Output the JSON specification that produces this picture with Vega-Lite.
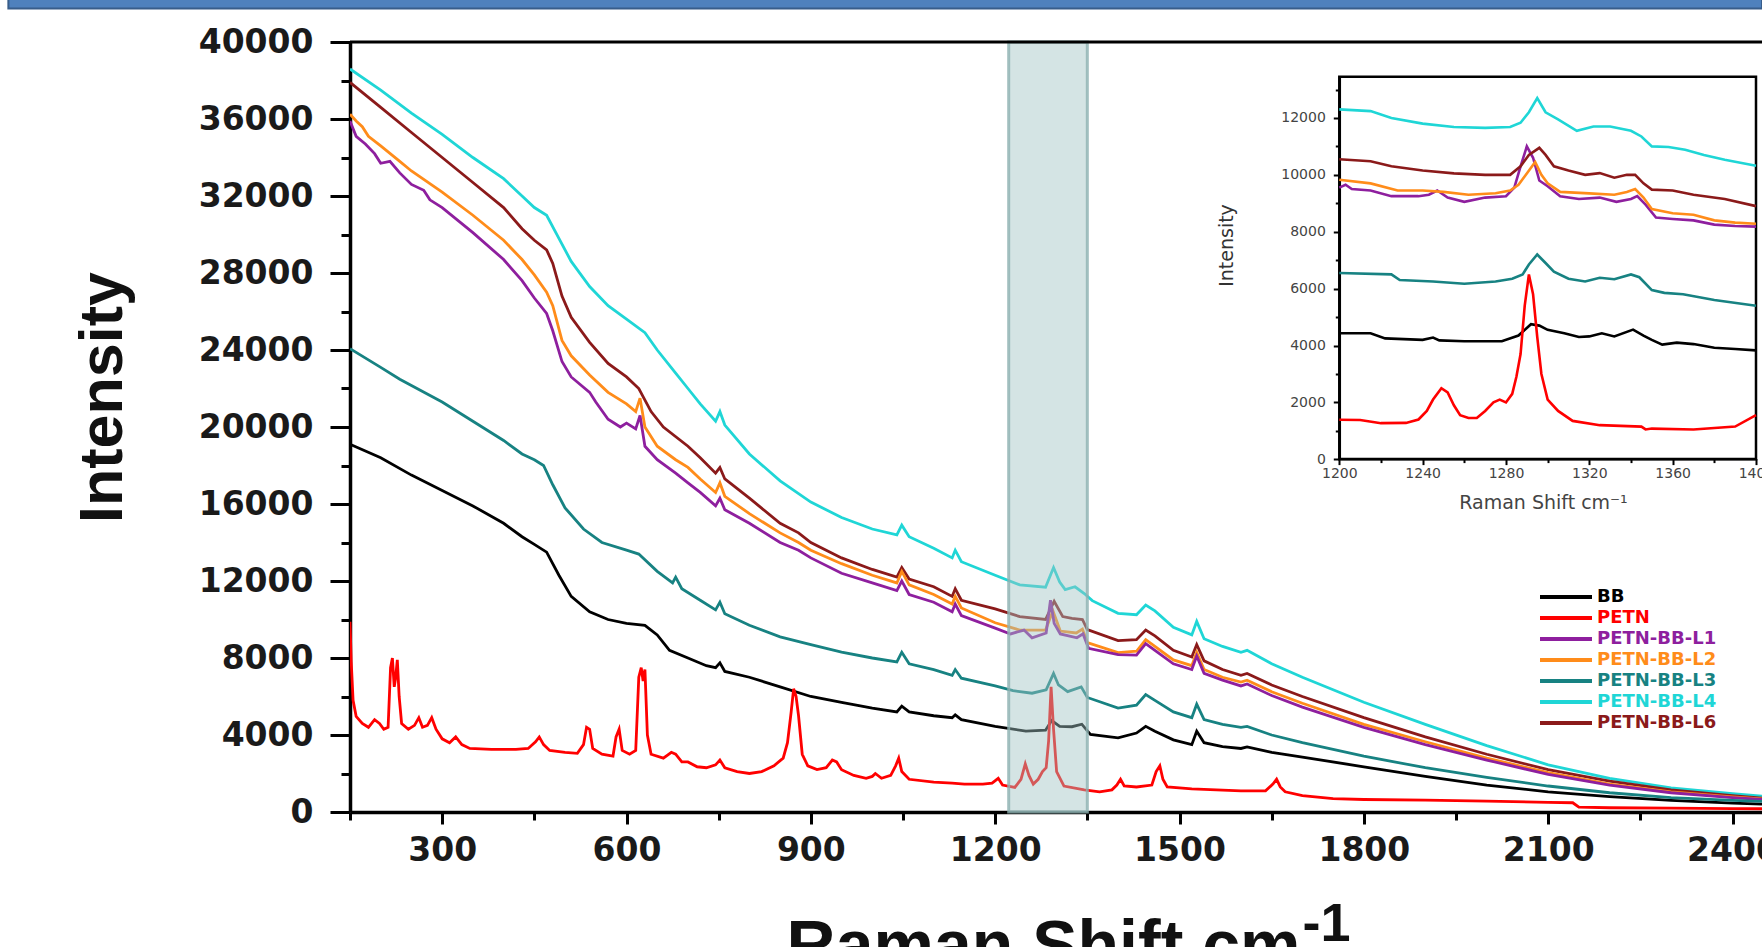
{
"$schema": "https://vega.github.io/schema/vega-lite/v6.json",
"width": 1412,
"height": 770,
"autosize": {"type": "none"},
"padding": {"left": 350, "top": 42, "right": 0, "bottom": 135},
"background": "#ffffff",
"config": {"view": {"stroke": null}, "axis": {"grid": false}},
"datasets": {
"main": [
{"s":"BB","x":150,"y":19100},{"s":"BB","x":200,"y":18400},{"s":"BB","x":250,"y":17500},{"s":"BB","x":300,"y":16700},{"s":"BB","x":350,"y":15900},{"s":"BB","x":400,"y":15000},{"s":"BB","x":430,"y":14300},{"s":"BB","x":450,"y":13900},{"s":"BB","x":470,"y":13500},{"s":"BB","x":490,"y":12300},{"s":"BB","x":510,"y":11200},{"s":"BB","x":540,"y":10400},{"s":"BB","x":570,"y":10000},{"s":"BB","x":600,"y":9800},{"s":"BB","x":630,"y":9700},{"s":"BB","x":650,"y":9200},{"s":"BB","x":670,"y":8400},{"s":"BB","x":700,"y":8000},{"s":"BB","x":730,"y":7600},{"s":"BB","x":745,"y":7500},{"s":"BB","x":752,"y":7750},{"s":"BB","x":760,"y":7300},{"s":"BB","x":800,"y":7000},{"s":"BB","x":850,"y":6500},{"s":"BB","x":900,"y":6000},{"s":"BB","x":950,"y":5700},{"s":"BB","x":1000,"y":5400},{"s":"BB","x":1040,"y":5200},{"s":"BB","x":1048,"y":5500},{"s":"BB","x":1060,"y":5200},{"s":"BB","x":1100,"y":5000},{"s":"BB","x":1130,"y":4900},{"s":"BB","x":1135,"y":5050},{"s":"BB","x":1145,"y":4800},{"s":"BB","x":1200,"y":4450},{"s":"BB","x":1250,"y":4200},{"s":"BB","x":1282,"y":4250},{"s":"BB","x":1292,"y":4750},{"s":"BB","x":1305,"y":4450},{"s":"BB","x":1325,"y":4430},{"s":"BB","x":1341,"y":4560},{"s":"BB","x":1355,"y":4030},{"s":"BB","x":1400,"y":3850},{"s":"BB","x":1430,"y":4100},{"s":"BB","x":1445,"y":4450},{"s":"BB","x":1460,"y":4200},{"s":"BB","x":1490,"y":3750},{"s":"BB","x":1520,"y":3500},{"s":"BB","x":1528,"y":4200},{"s":"BB","x":1540,"y":3600},{"s":"BB","x":1570,"y":3400},{"s":"BB","x":1600,"y":3300},{"s":"BB","x":1610,"y":3380},{"s":"BB","x":1650,"y":3100},{"s":"BB","x":1700,"y":2850},{"s":"BB","x":1800,"y":2350},{"s":"BB","x":1900,"y":1850},{"s":"BB","x":2000,"y":1400},{"s":"BB","x":2100,"y":1050},{"s":"BB","x":2200,"y":800},{"s":"BB","x":2300,"y":600},{"s":"BB","x":2400,"y":460},{"s":"BB","x":2448,"y":410},

{"s":"PETN-BB-L4","x":150,"y":38600},{"s":"PETN-BB-L4","x":200,"y":37500},{"s":"PETN-BB-L4","x":250,"y":36300},{"s":"PETN-BB-L4","x":300,"y":35200},{"s":"PETN-BB-L4","x":350,"y":34000},{"s":"PETN-BB-L4","x":400,"y":32900},{"s":"PETN-BB-L4","x":430,"y":32000},{"s":"PETN-BB-L4","x":450,"y":31400},{"s":"PETN-BB-L4","x":470,"y":31000},{"s":"PETN-BB-L4","x":490,"y":29800},{"s":"PETN-BB-L4","x":510,"y":28600},{"s":"PETN-BB-L4","x":540,"y":27300},{"s":"PETN-BB-L4","x":570,"y":26300},{"s":"PETN-BB-L4","x":600,"y":25600},{"s":"PETN-BB-L4","x":630,"y":24900},{"s":"PETN-BB-L4","x":650,"y":24000},{"s":"PETN-BB-L4","x":680,"y":22800},{"s":"PETN-BB-L4","x":700,"y":22000},{"s":"PETN-BB-L4","x":720,"y":21200},{"s":"PETN-BB-L4","x":745,"y":20300},{"s":"PETN-BB-L4","x":752,"y":20800},{"s":"PETN-BB-L4","x":760,"y":20100},{"s":"PETN-BB-L4","x":800,"y":18600},{"s":"PETN-BB-L4","x":850,"y":17200},{"s":"PETN-BB-L4","x":900,"y":16100},{"s":"PETN-BB-L4","x":950,"y":15300},{"s":"PETN-BB-L4","x":1000,"y":14700},{"s":"PETN-BB-L4","x":1040,"y":14400},{"s":"PETN-BB-L4","x":1048,"y":14900},{"s":"PETN-BB-L4","x":1060,"y":14300},{"s":"PETN-BB-L4","x":1100,"y":13700},{"s":"PETN-BB-L4","x":1130,"y":13200},{"s":"PETN-BB-L4","x":1135,"y":13600},{"s":"PETN-BB-L4","x":1145,"y":13000},{"s":"PETN-BB-L4","x":1200,"y":12300},{"s":"PETN-BB-L4","x":1240,"y":11800},{"s":"PETN-BB-L4","x":1282,"y":11680},{"s":"PETN-BB-L4","x":1295,"y":12700},{"s":"PETN-BB-L4","x":1305,"y":11950},{"s":"PETN-BB-L4","x":1314,"y":11550},{"s":"PETN-BB-L4","x":1330,"y":11700},{"s":"PETN-BB-L4","x":1345,"y":11350},{"s":"PETN-BB-L4","x":1358,"y":10980},{"s":"PETN-BB-L4","x":1400,"y":10320},{"s":"PETN-BB-L4","x":1430,"y":10250},{"s":"PETN-BB-L4","x":1445,"y":10750},{"s":"PETN-BB-L4","x":1460,"y":10450},{"s":"PETN-BB-L4","x":1490,"y":9600},{"s":"PETN-BB-L4","x":1520,"y":9200},{"s":"PETN-BB-L4","x":1528,"y":9900},{"s":"PETN-BB-L4","x":1540,"y":9000},{"s":"PETN-BB-L4","x":1570,"y":8600},{"s":"PETN-BB-L4","x":1600,"y":8300},{"s":"PETN-BB-L4","x":1610,"y":8400},{"s":"PETN-BB-L4","x":1650,"y":7700},{"s":"PETN-BB-L4","x":1700,"y":7000},{"s":"PETN-BB-L4","x":1800,"y":5700},{"s":"PETN-BB-L4","x":1900,"y":4550},{"s":"PETN-BB-L4","x":2000,"y":3450},{"s":"PETN-BB-L4","x":2100,"y":2450},{"s":"PETN-BB-L4","x":2200,"y":1750},{"s":"PETN-BB-L4","x":2300,"y":1250},{"s":"PETN-BB-L4","x":2400,"y":950},{"s":"PETN-BB-L4","x":2448,"y":820},

{"s":"PETN-BB-L6","x":150,"y":37900},{"s":"PETN-BB-L6","x":200,"y":36600},{"s":"PETN-BB-L6","x":250,"y":35300},{"s":"PETN-BB-L6","x":300,"y":34000},{"s":"PETN-BB-L6","x":350,"y":32700},{"s":"PETN-BB-L6","x":400,"y":31400},{"s":"PETN-BB-L6","x":430,"y":30300},{"s":"PETN-BB-L6","x":450,"y":29700},{"s":"PETN-BB-L6","x":470,"y":29200},{"s":"PETN-BB-L6","x":480,"y":28500},{"s":"PETN-BB-L6","x":495,"y":26800},{"s":"PETN-BB-L6","x":510,"y":25700},{"s":"PETN-BB-L6","x":540,"y":24400},{"s":"PETN-BB-L6","x":570,"y":23300},{"s":"PETN-BB-L6","x":600,"y":22600},{"s":"PETN-BB-L6","x":620,"y":22000},{"s":"PETN-BB-L6","x":640,"y":20800},{"s":"PETN-BB-L6","x":660,"y":20000},{"s":"PETN-BB-L6","x":700,"y":19000},{"s":"PETN-BB-L6","x":720,"y":18400},{"s":"PETN-BB-L6","x":745,"y":17600},{"s":"PETN-BB-L6","x":752,"y":17900},{"s":"PETN-BB-L6","x":760,"y":17300},{"s":"PETN-BB-L6","x":800,"y":16300},{"s":"PETN-BB-L6","x":850,"y":15000},{"s":"PETN-BB-L6","x":880,"y":14500},{"s":"PETN-BB-L6","x":900,"y":14000},{"s":"PETN-BB-L6","x":950,"y":13200},{"s":"PETN-BB-L6","x":1000,"y":12600},{"s":"PETN-BB-L6","x":1040,"y":12200},{"s":"PETN-BB-L6","x":1048,"y":12700},{"s":"PETN-BB-L6","x":1060,"y":12100},{"s":"PETN-BB-L6","x":1100,"y":11700},{"s":"PETN-BB-L6","x":1130,"y":11200},{"s":"PETN-BB-L6","x":1135,"y":11600},{"s":"PETN-BB-L6","x":1145,"y":11000},{"s":"PETN-BB-L6","x":1200,"y":10550},{"s":"PETN-BB-L6","x":1240,"y":10150},{"s":"PETN-BB-L6","x":1282,"y":10000},{"s":"PETN-BB-L6","x":1296,"y":10950},{"s":"PETN-BB-L6","x":1310,"y":10150},{"s":"PETN-BB-L6","x":1325,"y":10060},{"s":"PETN-BB-L6","x":1342,"y":10000},{"s":"PETN-BB-L6","x":1350,"y":9480},{"s":"PETN-BB-L6","x":1400,"y":8900},{"s":"PETN-BB-L6","x":1430,"y":8950},{"s":"PETN-BB-L6","x":1445,"y":9450},{"s":"PETN-BB-L6","x":1460,"y":9150},{"s":"PETN-BB-L6","x":1490,"y":8400},{"s":"PETN-BB-L6","x":1520,"y":8050},{"s":"PETN-BB-L6","x":1528,"y":8700},{"s":"PETN-BB-L6","x":1540,"y":7850},{"s":"PETN-BB-L6","x":1570,"y":7400},{"s":"PETN-BB-L6","x":1600,"y":7100},{"s":"PETN-BB-L6","x":1610,"y":7200},{"s":"PETN-BB-L6","x":1650,"y":6600},{"s":"PETN-BB-L6","x":1700,"y":6000},{"s":"PETN-BB-L6","x":1800,"y":4900},{"s":"PETN-BB-L6","x":1900,"y":3900},{"s":"PETN-BB-L6","x":2000,"y":3000},{"s":"PETN-BB-L6","x":2100,"y":2200},{"s":"PETN-BB-L6","x":2200,"y":1600},{"s":"PETN-BB-L6","x":2300,"y":1150},{"s":"PETN-BB-L6","x":2400,"y":850},{"s":"PETN-BB-L6","x":2448,"y":720},

{"s":"PETN-BB-L2","x":150,"y":36250},{"s":"PETN-BB-L2","x":160,"y":35900},{"s":"PETN-BB-L2","x":170,"y":35600},{"s":"PETN-BB-L2","x":180,"y":35100},{"s":"PETN-BB-L2","x":200,"y":34600},{"s":"PETN-BB-L2","x":231,"y":33800},{"s":"PETN-BB-L2","x":250,"y":33300},{"s":"PETN-BB-L2","x":300,"y":32200},{"s":"PETN-BB-L2","x":350,"y":31000},{"s":"PETN-BB-L2","x":400,"y":29700},{"s":"PETN-BB-L2","x":430,"y":28700},{"s":"PETN-BB-L2","x":450,"y":27900},{"s":"PETN-BB-L2","x":470,"y":27000},{"s":"PETN-BB-L2","x":480,"y":26300},{"s":"PETN-BB-L2","x":495,"y":24500},{"s":"PETN-BB-L2","x":510,"y":23700},{"s":"PETN-BB-L2","x":540,"y":22700},{"s":"PETN-BB-L2","x":570,"y":21800},{"s":"PETN-BB-L2","x":600,"y":21200},{"s":"PETN-BB-L2","x":615,"y":20800},{"s":"PETN-BB-L2","x":622,"y":21500},{"s":"PETN-BB-L2","x":630,"y":20000},{"s":"PETN-BB-L2","x":650,"y":19000},{"s":"PETN-BB-L2","x":680,"y":18300},{"s":"PETN-BB-L2","x":700,"y":17900},{"s":"PETN-BB-L2","x":720,"y":17300},{"s":"PETN-BB-L2","x":745,"y":16600},{"s":"PETN-BB-L2","x":752,"y":17100},{"s":"PETN-BB-L2","x":760,"y":16400},{"s":"PETN-BB-L2","x":800,"y":15500},{"s":"PETN-BB-L2","x":850,"y":14500},{"s":"PETN-BB-L2","x":880,"y":14000},{"s":"PETN-BB-L2","x":900,"y":13600},{"s":"PETN-BB-L2","x":950,"y":12900},{"s":"PETN-BB-L2","x":1000,"y":12300},{"s":"PETN-BB-L2","x":1040,"y":11900},{"s":"PETN-BB-L2","x":1048,"y":12500},{"s":"PETN-BB-L2","x":1060,"y":11800},{"s":"PETN-BB-L2","x":1100,"y":11300},{"s":"PETN-BB-L2","x":1130,"y":10800},{"s":"PETN-BB-L2","x":1135,"y":11200},{"s":"PETN-BB-L2","x":1145,"y":10600},{"s":"PETN-BB-L2","x":1200,"y":9830},{"s":"PETN-BB-L2","x":1240,"y":9450},{"s":"PETN-BB-L2","x":1282,"y":9450},{"s":"PETN-BB-L2","x":1294,"y":10450},{"s":"PETN-BB-L2","x":1306,"y":9400},{"s":"PETN-BB-L2","x":1332,"y":9300},{"s":"PETN-BB-L2","x":1342,"y":9500},{"s":"PETN-BB-L2","x":1350,"y":8800},{"s":"PETN-BB-L2","x":1400,"y":8280},{"s":"PETN-BB-L2","x":1430,"y":8350},{"s":"PETN-BB-L2","x":1445,"y":8950},{"s":"PETN-BB-L2","x":1460,"y":8600},{"s":"PETN-BB-L2","x":1490,"y":7900},{"s":"PETN-BB-L2","x":1520,"y":7600},{"s":"PETN-BB-L2","x":1528,"y":8300},{"s":"PETN-BB-L2","x":1540,"y":7400},{"s":"PETN-BB-L2","x":1570,"y":7000},{"s":"PETN-BB-L2","x":1600,"y":6750},{"s":"PETN-BB-L2","x":1610,"y":6850},{"s":"PETN-BB-L2","x":1650,"y":6250},{"s":"PETN-BB-L2","x":1700,"y":5650},{"s":"PETN-BB-L2","x":1800,"y":4550},{"s":"PETN-BB-L2","x":1900,"y":3650},{"s":"PETN-BB-L2","x":2000,"y":2800},{"s":"PETN-BB-L2","x":2100,"y":2050},{"s":"PETN-BB-L2","x":2200,"y":1450},{"s":"PETN-BB-L2","x":2300,"y":1050},{"s":"PETN-BB-L2","x":2400,"y":780},{"s":"PETN-BB-L2","x":2448,"y":680},

{"s":"PETN-BB-L1","x":150,"y":35900},{"s":"PETN-BB-L1","x":160,"y":35100},{"s":"PETN-BB-L1","x":175,"y":34700},{"s":"PETN-BB-L1","x":190,"y":34200},{"s":"PETN-BB-L1","x":200,"y":33700},{"s":"PETN-BB-L1","x":215,"y":33800},{"s":"PETN-BB-L1","x":231,"y":33200},{"s":"PETN-BB-L1","x":250,"y":32600},{"s":"PETN-BB-L1","x":270,"y":32300},{"s":"PETN-BB-L1","x":280,"y":31800},{"s":"PETN-BB-L1","x":300,"y":31400},{"s":"PETN-BB-L1","x":350,"y":30100},{"s":"PETN-BB-L1","x":400,"y":28700},{"s":"PETN-BB-L1","x":430,"y":27600},{"s":"PETN-BB-L1","x":450,"y":26700},{"s":"PETN-BB-L1","x":470,"y":25900},{"s":"PETN-BB-L1","x":480,"y":25000},{"s":"PETN-BB-L1","x":495,"y":23400},{"s":"PETN-BB-L1","x":510,"y":22600},{"s":"PETN-BB-L1","x":540,"y":21800},{"s":"PETN-BB-L1","x":550,"y":21300},{"s":"PETN-BB-L1","x":570,"y":20400},{"s":"PETN-BB-L1","x":590,"y":20000},{"s":"PETN-BB-L1","x":600,"y":20200},{"s":"PETN-BB-L1","x":615,"y":19900},{"s":"PETN-BB-L1","x":622,"y":20600},{"s":"PETN-BB-L1","x":630,"y":19000},{"s":"PETN-BB-L1","x":650,"y":18300},{"s":"PETN-BB-L1","x":680,"y":17600},{"s":"PETN-BB-L1","x":700,"y":17100},{"s":"PETN-BB-L1","x":720,"y":16600},{"s":"PETN-BB-L1","x":745,"y":15900},{"s":"PETN-BB-L1","x":752,"y":16300},{"s":"PETN-BB-L1","x":760,"y":15700},{"s":"PETN-BB-L1","x":800,"y":15000},{"s":"PETN-BB-L1","x":850,"y":14000},{"s":"PETN-BB-L1","x":880,"y":13600},{"s":"PETN-BB-L1","x":900,"y":13200},{"s":"PETN-BB-L1","x":950,"y":12400},{"s":"PETN-BB-L1","x":1000,"y":11900},{"s":"PETN-BB-L1","x":1040,"y":11500},{"s":"PETN-BB-L1","x":1048,"y":12000},{"s":"PETN-BB-L1","x":1060,"y":11300},{"s":"PETN-BB-L1","x":1100,"y":10900},{"s":"PETN-BB-L1","x":1130,"y":10400},{"s":"PETN-BB-L1","x":1135,"y":10800},{"s":"PETN-BB-L1","x":1145,"y":10200},{"s":"PETN-BB-L1","x":1200,"y":9550},{"s":"PETN-BB-L1","x":1225,"y":9250},{"s":"PETN-BB-L1","x":1247,"y":9450},{"s":"PETN-BB-L1","x":1260,"y":9050},{"s":"PETN-BB-L1","x":1283,"y":9300},{"s":"PETN-BB-L1","x":1290,"y":11000},{"s":"PETN-BB-L1","x":1296,"y":9800},{"s":"PETN-BB-L1","x":1306,"y":9250},{"s":"PETN-BB-L1","x":1333,"y":9050},{"s":"PETN-BB-L1","x":1343,"y":9250},{"s":"PETN-BB-L1","x":1352,"y":8500},{"s":"PETN-BB-L1","x":1400,"y":8180},{"s":"PETN-BB-L1","x":1430,"y":8150},{"s":"PETN-BB-L1","x":1445,"y":8750},{"s":"PETN-BB-L1","x":1460,"y":8400},{"s":"PETN-BB-L1","x":1490,"y":7700},{"s":"PETN-BB-L1","x":1520,"y":7400},{"s":"PETN-BB-L1","x":1528,"y":8100},{"s":"PETN-BB-L1","x":1540,"y":7200},{"s":"PETN-BB-L1","x":1570,"y":6850},{"s":"PETN-BB-L1","x":1600,"y":6550},{"s":"PETN-BB-L1","x":1610,"y":6650},{"s":"PETN-BB-L1","x":1650,"y":6050},{"s":"PETN-BB-L1","x":1700,"y":5450},{"s":"PETN-BB-L1","x":1800,"y":4400},{"s":"PETN-BB-L1","x":1900,"y":3500},{"s":"PETN-BB-L1","x":2000,"y":2700},{"s":"PETN-BB-L1","x":2100,"y":1950},{"s":"PETN-BB-L1","x":2200,"y":1400},{"s":"PETN-BB-L1","x":2300,"y":1000},{"s":"PETN-BB-L1","x":2400,"y":750},{"s":"PETN-BB-L1","x":2448,"y":650},

{"s":"PETN-BB-L3","x":150,"y":24070},{"s":"PETN-BB-L3","x":200,"y":23100},{"s":"PETN-BB-L3","x":231,"y":22480},{"s":"PETN-BB-L3","x":300,"y":21300},{"s":"PETN-BB-L3","x":350,"y":20300},{"s":"PETN-BB-L3","x":400,"y":19300},{"s":"PETN-BB-L3","x":430,"y":18600},{"s":"PETN-BB-L3","x":450,"y":18300},{"s":"PETN-BB-L3","x":465,"y":18000},{"s":"PETN-BB-L3","x":480,"y":17000},{"s":"PETN-BB-L3","x":500,"y":15800},{"s":"PETN-BB-L3","x":530,"y":14700},{"s":"PETN-BB-L3","x":560,"y":14000},{"s":"PETN-BB-L3","x":600,"y":13600},{"s":"PETN-BB-L3","x":620,"y":13400},{"s":"PETN-BB-L3","x":650,"y":12500},{"s":"PETN-BB-L3","x":675,"y":11900},{"s":"PETN-BB-L3","x":680,"y":12200},{"s":"PETN-BB-L3","x":690,"y":11600},{"s":"PETN-BB-L3","x":720,"y":11000},{"s":"PETN-BB-L3","x":745,"y":10500},{"s":"PETN-BB-L3","x":752,"y":10900},{"s":"PETN-BB-L3","x":760,"y":10300},{"s":"PETN-BB-L3","x":800,"y":9700},{"s":"PETN-BB-L3","x":850,"y":9100},{"s":"PETN-BB-L3","x":900,"y":8700},{"s":"PETN-BB-L3","x":950,"y":8300},{"s":"PETN-BB-L3","x":1000,"y":8000},{"s":"PETN-BB-L3","x":1040,"y":7800},{"s":"PETN-BB-L3","x":1048,"y":8300},{"s":"PETN-BB-L3","x":1060,"y":7700},{"s":"PETN-BB-L3","x":1100,"y":7400},{"s":"PETN-BB-L3","x":1130,"y":7100},{"s":"PETN-BB-L3","x":1135,"y":7400},{"s":"PETN-BB-L3","x":1145,"y":6950},{"s":"PETN-BB-L3","x":1200,"y":6550},{"s":"PETN-BB-L3","x":1229,"y":6300},{"s":"PETN-BB-L3","x":1260,"y":6170},{"s":"PETN-BB-L3","x":1283,"y":6350},{"s":"PETN-BB-L3","x":1295,"y":7200},{"s":"PETN-BB-L3","x":1303,"y":6600},{"s":"PETN-BB-L3","x":1318,"y":6250},{"s":"PETN-BB-L3","x":1340,"y":6500},{"s":"PETN-BB-L3","x":1350,"y":5950},{"s":"PETN-BB-L3","x":1400,"y":5400},{"s":"PETN-BB-L3","x":1430,"y":5550},{"s":"PETN-BB-L3","x":1445,"y":6100},{"s":"PETN-BB-L3","x":1460,"y":5800},{"s":"PETN-BB-L3","x":1490,"y":5200},{"s":"PETN-BB-L3","x":1520,"y":4900},{"s":"PETN-BB-L3","x":1528,"y":5600},{"s":"PETN-BB-L3","x":1540,"y":4800},{"s":"PETN-BB-L3","x":1570,"y":4550},{"s":"PETN-BB-L3","x":1600,"y":4400},{"s":"PETN-BB-L3","x":1610,"y":4450},{"s":"PETN-BB-L3","x":1650,"y":4000},{"s":"PETN-BB-L3","x":1700,"y":3600},{"s":"PETN-BB-L3","x":1800,"y":2900},{"s":"PETN-BB-L3","x":1900,"y":2300},{"s":"PETN-BB-L3","x":2000,"y":1800},{"s":"PETN-BB-L3","x":2100,"y":1350},{"s":"PETN-BB-L3","x":2200,"y":1000},{"s":"PETN-BB-L3","x":2300,"y":750},{"s":"PETN-BB-L3","x":2400,"y":600},{"s":"PETN-BB-L3","x":2448,"y":550},

{"s":"PETN","x":150,"y":9880},{"s":"PETN","x":152,"y":7800},{"s":"PETN","x":155,"y":5800},{"s":"PETN","x":160,"y":4970},{"s":"PETN","x":170,"y":4600},{"s":"PETN","x":180,"y":4400},{"s":"PETN","x":190,"y":4800},{"s":"PETN","x":198,"y":4600},{"s":"PETN","x":205,"y":4300},{"s":"PETN","x":212,"y":4400},{"s":"PETN","x":216,"y":7500},{"s":"PETN","x":219,"y":8000},{"s":"PETN","x":222,"y":6500},{"s":"PETN","x":224,"y":6900},{"s":"PETN","x":227,"y":7900},{"s":"PETN","x":230,"y":6000},{"s":"PETN","x":234,"y":4600},{"s":"PETN","x":245,"y":4300},{"s":"PETN","x":255,"y":4500},{"s":"PETN","x":262,"y":4900},{"s":"PETN","x":268,"y":4400},{"s":"PETN","x":276,"y":4500},{"s":"PETN","x":283,"y":4900},{"s":"PETN","x":290,"y":4300},{"s":"PETN","x":300,"y":3800},{"s":"PETN","x":312,"y":3600},{"s":"PETN","x":322,"y":3900},{"s":"PETN","x":332,"y":3500},{"s":"PETN","x":345,"y":3300},{"s":"PETN","x":380,"y":3250},{"s":"PETN","x":420,"y":3250},{"s":"PETN","x":440,"y":3300},{"s":"PETN","x":452,"y":3650},{"s":"PETN","x":458,"y":3900},{"s":"PETN","x":465,"y":3500},{"s":"PETN","x":475,"y":3200},{"s":"PETN","x":500,"y":3100},{"s":"PETN","x":520,"y":3050},{"s":"PETN","x":530,"y":3500},{"s":"PETN","x":535,"y":4400},{"s":"PETN","x":540,"y":4300},{"s":"PETN","x":545,"y":3300},{"s":"PETN","x":560,"y":3000},{"s":"PETN","x":578,"y":2900},{"s":"PETN","x":583,"y":3900},{"s":"PETN","x":588,"y":4300},{"s":"PETN","x":593,"y":3200},{"s":"PETN","x":605,"y":3000},{"s":"PETN","x":615,"y":3200},{"s":"PETN","x":620,"y":7000},{"s":"PETN","x":624,"y":7500},{"s":"PETN","x":627,"y":6800},{"s":"PETN","x":630,"y":7400},{"s":"PETN","x":634,"y":4000},{"s":"PETN","x":640,"y":3000},{"s":"PETN","x":660,"y":2800},{"s":"PETN","x":673,"y":3100},{"s":"PETN","x":680,"y":3000},{"s":"PETN","x":690,"y":2600},{"s":"PETN","x":700,"y":2600},{"s":"PETN","x":715,"y":2350},{"s":"PETN","x":730,"y":2300},{"s":"PETN","x":745,"y":2450},{"s":"PETN","x":752,"y":2700},{"s":"PETN","x":760,"y":2300},{"s":"PETN","x":780,"y":2100},{"s":"PETN","x":800,"y":2000},{"s":"PETN","x":820,"y":2100},{"s":"PETN","x":840,"y":2400},{"s":"PETN","x":855,"y":2800},{"s":"PETN","x":862,"y":3600},{"s":"PETN","x":868,"y":5200},{"s":"PETN","x":872,"y":6400},{"s":"PETN","x":876,"y":6000},{"s":"PETN","x":880,"y":5000},{"s":"PETN","x":886,"y":3000},{"s":"PETN","x":895,"y":2400},{"s":"PETN","x":910,"y":2200},{"s":"PETN","x":925,"y":2300},{"s":"PETN","x":935,"y":2700},{"s":"PETN","x":942,"y":2600},{"s":"PETN","x":950,"y":2200},{"s":"PETN","x":970,"y":1900},{"s":"PETN","x":990,"y":1750},{"s":"PETN","x":1000,"y":1850},{"s":"PETN","x":1005,"y":2000},{"s":"PETN","x":1015,"y":1750},{"s":"PETN","x":1030,"y":1900},{"s":"PETN","x":1038,"y":2400},{"s":"PETN","x":1043,"y":2800},{"s":"PETN","x":1048,"y":2100},{"s":"PETN","x":1060,"y":1700},{"s":"PETN","x":1100,"y":1550},{"s":"PETN","x":1130,"y":1500},{"s":"PETN","x":1150,"y":1450},{"s":"PETN","x":1180,"y":1450},{"s":"PETN","x":1195,"y":1500},{"s":"PETN","x":1205,"y":1750},{"s":"PETN","x":1212,"y":1400},{"s":"PETN","x":1232,"y":1280},{"s":"PETN","x":1242,"y":1700},{"s":"PETN","x":1249,"y":2500},{"s":"PETN","x":1255,"y":1900},{"s":"PETN","x":1262,"y":1450},{"s":"PETN","x":1270,"y":1700},{"s":"PETN","x":1277,"y":2100},{"s":"PETN","x":1283,"y":2300},{"s":"PETN","x":1287,"y":3700},{"s":"PETN","x":1291,"y":6500},{"s":"PETN","x":1295,"y":4300},{"s":"PETN","x":1300,"y":2100},{"s":"PETN","x":1312,"y":1350},{"s":"PETN","x":1345,"y":1150},{"s":"PETN","x":1370,"y":1050},{"s":"PETN","x":1390,"y":1150},{"s":"PETN","x":1398,"y":1400},{"s":"PETN","x":1404,"y":1700},{"s":"PETN","x":1410,"y":1350},{"s":"PETN","x":1430,"y":1300},{"s":"PETN","x":1455,"y":1400},{"s":"PETN","x":1462,"y":2100},{"s":"PETN","x":1468,"y":2400},{"s":"PETN","x":1473,"y":1700},{"s":"PETN","x":1480,"y":1300},{"s":"PETN","x":1520,"y":1200},{"s":"PETN","x":1560,"y":1150},{"s":"PETN","x":1600,"y":1100},{"s":"PETN","x":1640,"y":1100},{"s":"PETN","x":1652,"y":1450},{"s":"PETN","x":1658,"y":1700},{"s":"PETN","x":1664,"y":1300},{"s":"PETN","x":1672,"y":1050},{"s":"PETN","x":1700,"y":850},{"s":"PETN","x":1750,"y":700},{"s":"PETN","x":1800,"y":650},{"s":"PETN","x":1900,"y":620},{"s":"PETN","x":2000,"y":560},{"s":"PETN","x":2100,"y":500},{"s":"PETN","x":2140,"y":480},{"s":"PETN","x":2150,"y":250},{"s":"PETN","x":2200,"y":220},{"s":"PETN","x":2300,"y":200},{"s":"PETN","x":2400,"y":180},{"s":"PETN","x":2448,"y":170}
],
"inset": [
{"s":"BB","x":1200,"y":4430},{"s":"BB","x":1215,"y":4430},{"s":"BB","x":1222,"y":4250},{"s":"BB","x":1240,"y":4200},{"s":"BB","x":1245,"y":4280},{"s":"BB","x":1248,"y":4180},{"s":"BB","x":1260,"y":4150},{"s":"BB","x":1278,"y":4150},{"s":"BB","x":1286,"y":4350},{"s":"BB","x":1292,"y":4750},{"s":"BB","x":1296,"y":4700},{"s":"BB","x":1300,"y":4550},{"s":"BB","x":1308,"y":4430},{"s":"BB","x":1315,"y":4300},{"s":"BB","x":1320,"y":4320},{"s":"BB","x":1326,"y":4430},{"s":"BB","x":1332,"y":4320},{"s":"BB","x":1341,"y":4560},{"s":"BB","x":1346,"y":4350},{"s":"BB","x":1350,"y":4200},{"s":"BB","x":1355,"y":4030},{"s":"BB","x":1362,"y":4100},{"s":"BB","x":1370,"y":4050},{"s":"BB","x":1380,"y":3920},{"s":"BB","x":1390,"y":3880},{"s":"BB","x":1400,"y":3830},
{"s":"PETN","x":1200,"y":1390},{"s":"PETN","x":1210,"y":1380},{"s":"PETN","x":1220,"y":1270},{"s":"PETN","x":1232,"y":1280},{"s":"PETN","x":1238,"y":1400},{"s":"PETN","x":1242,"y":1700},{"s":"PETN","x":1245,"y":2100},{"s":"PETN","x":1249,"y":2500},{"s":"PETN","x":1252,"y":2350},{"s":"PETN","x":1255,"y":1900},{"s":"PETN","x":1258,"y":1550},{"s":"PETN","x":1262,"y":1450},{"s":"PETN","x":1266,"y":1450},{"s":"PETN","x":1270,"y":1700},{"s":"PETN","x":1274,"y":2000},{"s":"PETN","x":1277,"y":2100},{"s":"PETN","x":1280,"y":2000},{"s":"PETN","x":1283,"y":2300},{"s":"PETN","x":1285,"y":2900},{"s":"PETN","x":1287,"y":3700},{"s":"PETN","x":1289,"y":5400},{"s":"PETN","x":1291,"y":6500},{"s":"PETN","x":1293,"y":5800},{"s":"PETN","x":1295,"y":4300},{"s":"PETN","x":1297,"y":3000},{"s":"PETN","x":1300,"y":2100},{"s":"PETN","x":1305,"y":1700},{"s":"PETN","x":1312,"y":1350},{"s":"PETN","x":1325,"y":1200},{"s":"PETN","x":1345,"y":1150},{"s":"PETN","x":1347,"y":1050},{"s":"PETN","x":1350,"y":1080},{"s":"PETN","x":1370,"y":1050},{"s":"PETN","x":1390,"y":1150},{"s":"PETN","x":1400,"y":1550},
{"s":"PETN-BB-L1","x":1200,"y":9550},{"s":"PETN-BB-L1","x":1203,"y":9650},{"s":"PETN-BB-L1","x":1206,"y":9500},{"s":"PETN-BB-L1","x":1215,"y":9450},{"s":"PETN-BB-L1","x":1225,"y":9250},{"s":"PETN-BB-L1","x":1238,"y":9250},{"s":"PETN-BB-L1","x":1243,"y":9300},{"s":"PETN-BB-L1","x":1247,"y":9450},{"s":"PETN-BB-L1","x":1252,"y":9200},{"s":"PETN-BB-L1","x":1260,"y":9050},{"s":"PETN-BB-L1","x":1270,"y":9200},{"s":"PETN-BB-L1","x":1280,"y":9250},{"s":"PETN-BB-L1","x":1284,"y":9550},{"s":"PETN-BB-L1","x":1287,"y":10300},{"s":"PETN-BB-L1","x":1290,"y":11000},{"s":"PETN-BB-L1","x":1293,"y":10600},{"s":"PETN-BB-L1","x":1296,"y":9800},{"s":"PETN-BB-L1","x":1300,"y":9600},{"s":"PETN-BB-L1","x":1306,"y":9250},{"s":"PETN-BB-L1","x":1315,"y":9150},{"s":"PETN-BB-L1","x":1325,"y":9200},{"s":"PETN-BB-L1","x":1333,"y":9050},{"s":"PETN-BB-L1","x":1340,"y":9150},{"s":"PETN-BB-L1","x":1343,"y":9250},{"s":"PETN-BB-L1","x":1347,"y":8950},{"s":"PETN-BB-L1","x":1352,"y":8500},{"s":"PETN-BB-L1","x":1360,"y":8450},{"s":"PETN-BB-L1","x":1370,"y":8400},{"s":"PETN-BB-L1","x":1380,"y":8250},{"s":"PETN-BB-L1","x":1390,"y":8200},{"s":"PETN-BB-L1","x":1400,"y":8180},
{"s":"PETN-BB-L2","x":1200,"y":9830},{"s":"PETN-BB-L2","x":1215,"y":9700},{"s":"PETN-BB-L2","x":1228,"y":9450},{"s":"PETN-BB-L2","x":1240,"y":9450},{"s":"PETN-BB-L2","x":1250,"y":9400},{"s":"PETN-BB-L2","x":1262,"y":9300},{"s":"PETN-BB-L2","x":1275,"y":9350},{"s":"PETN-BB-L2","x":1282,"y":9450},{"s":"PETN-BB-L2","x":1286,"y":9650},{"s":"PETN-BB-L2","x":1290,"y":10050},{"s":"PETN-BB-L2","x":1294,"y":10450},{"s":"PETN-BB-L2","x":1297,"y":10000},{"s":"PETN-BB-L2","x":1300,"y":9700},{"s":"PETN-BB-L2","x":1306,"y":9400},{"s":"PETN-BB-L2","x":1320,"y":9350},{"s":"PETN-BB-L2","x":1332,"y":9300},{"s":"PETN-BB-L2","x":1338,"y":9400},{"s":"PETN-BB-L2","x":1342,"y":9500},{"s":"PETN-BB-L2","x":1346,"y":9200},{"s":"PETN-BB-L2","x":1350,"y":8800},{"s":"PETN-BB-L2","x":1360,"y":8650},{"s":"PETN-BB-L2","x":1370,"y":8600},{"s":"PETN-BB-L2","x":1380,"y":8400},{"s":"PETN-BB-L2","x":1390,"y":8320},{"s":"PETN-BB-L2","x":1400,"y":8280},
{"s":"PETN-BB-L3","x":1200,"y":6550},{"s":"PETN-BB-L3","x":1225,"y":6500},{"s":"PETN-BB-L3","x":1229,"y":6300},{"s":"PETN-BB-L3","x":1245,"y":6250},{"s":"PETN-BB-L3","x":1260,"y":6170},{"s":"PETN-BB-L3","x":1275,"y":6250},{"s":"PETN-BB-L3","x":1283,"y":6350},{"s":"PETN-BB-L3","x":1288,"y":6500},{"s":"PETN-BB-L3","x":1291,"y":6850},{"s":"PETN-BB-L3","x":1295,"y":7200},{"s":"PETN-BB-L3","x":1299,"y":6900},{"s":"PETN-BB-L3","x":1303,"y":6600},{"s":"PETN-BB-L3","x":1310,"y":6350},{"s":"PETN-BB-L3","x":1318,"y":6250},{"s":"PETN-BB-L3","x":1325,"y":6380},{"s":"PETN-BB-L3","x":1332,"y":6330},{"s":"PETN-BB-L3","x":1340,"y":6500},{"s":"PETN-BB-L3","x":1344,"y":6400},{"s":"PETN-BB-L3","x":1350,"y":5950},{"s":"PETN-BB-L3","x":1356,"y":5850},{"s":"PETN-BB-L3","x":1365,"y":5800},{"s":"PETN-BB-L3","x":1380,"y":5600},{"s":"PETN-BB-L3","x":1400,"y":5400},
{"s":"PETN-BB-L4","x":1200,"y":12300},{"s":"PETN-BB-L4","x":1215,"y":12240},{"s":"PETN-BB-L4","x":1225,"y":12000},{"s":"PETN-BB-L4","x":1240,"y":11800},{"s":"PETN-BB-L4","x":1255,"y":11680},{"s":"PETN-BB-L4","x":1270,"y":11650},{"s":"PETN-BB-L4","x":1282,"y":11680},{"s":"PETN-BB-L4","x":1287,"y":11830},{"s":"PETN-BB-L4","x":1291,"y":12200},{"s":"PETN-BB-L4","x":1295,"y":12700},{"s":"PETN-BB-L4","x":1299,"y":12200},{"s":"PETN-BB-L4","x":1305,"y":11950},{"s":"PETN-BB-L4","x":1314,"y":11550},{"s":"PETN-BB-L4","x":1322,"y":11700},{"s":"PETN-BB-L4","x":1330,"y":11700},{"s":"PETN-BB-L4","x":1340,"y":11550},{"s":"PETN-BB-L4","x":1345,"y":11350},{"s":"PETN-BB-L4","x":1350,"y":11000},{"s":"PETN-BB-L4","x":1358,"y":10980},{"s":"PETN-BB-L4","x":1366,"y":10880},{"s":"PETN-BB-L4","x":1375,"y":10700},{"s":"PETN-BB-L4","x":1385,"y":10530},{"s":"PETN-BB-L4","x":1400,"y":10320},
{"s":"PETN-BB-L6","x":1200,"y":10550},{"s":"PETN-BB-L6","x":1215,"y":10480},{"s":"PETN-BB-L6","x":1225,"y":10300},{"s":"PETN-BB-L6","x":1240,"y":10150},{"s":"PETN-BB-L6","x":1255,"y":10050},{"s":"PETN-BB-L6","x":1270,"y":10000},{"s":"PETN-BB-L6","x":1282,"y":10000},{"s":"PETN-BB-L6","x":1287,"y":10300},{"s":"PETN-BB-L6","x":1291,"y":10700},{"s":"PETN-BB-L6","x":1296,"y":10950},{"s":"PETN-BB-L6","x":1299,"y":10700},{"s":"PETN-BB-L6","x":1303,"y":10300},{"s":"PETN-BB-L6","x":1310,"y":10150},{"s":"PETN-BB-L6","x":1318,"y":10000},{"s":"PETN-BB-L6","x":1325,"y":10060},{"s":"PETN-BB-L6","x":1332,"y":9900},{"s":"PETN-BB-L6","x":1338,"y":10000},{"s":"PETN-BB-L6","x":1342,"y":10000},{"s":"PETN-BB-L6","x":1346,"y":9700},{"s":"PETN-BB-L6","x":1350,"y":9480},{"s":"PETN-BB-L6","x":1360,"y":9450},{"s":"PETN-BB-L6","x":1370,"y":9300},{"s":"PETN-BB-L6","x":1385,"y":9150},{"s":"PETN-BB-L6","x":1400,"y":8900}
]
},
"layer": [
{
"data": {"name": "main"},
"mark": {"type": "line", "strokeWidth": 2.8, "clip": true},
"encoding": {
"x": {"field": "x", "type": "quantitative",
"scale": {"domain": [150, 2448], "nice": false, "zero": false},
"axis": {"orient": "bottom", "values": [300,600,900,1200,1500,1800,2100,2400], "format": "d",
"labelFont": "DejaVu Sans", "labelFontSize": 33, "labelFontWeight": "bold", "labelColor": "#1a1a1a",
"labelPadding": 10, "labelFlush": false, "labelOverlap": false, "labelBound": false,
"tickSize": 12, "tickWidth": 3, "tickColor": "#000000", "domainColor": "#000000", "domainWidth": 3.5,
"title": "Raman Shift cm", "titleFont": "Liberation Sans", "titleFontSize": 68, "titleFontWeight": "bold", "titleColor": "#111111",
"titleX": 693, "titleY": 155, "titleAlign": "center", "titleBaseline": "alphabetic"}},
"y": {"field": "y", "type": "quantitative",
"scale": {"domain": [0, 40000], "nice": false, "zero": true},
"axis": {"orient": "left", "values": [0,4000,8000,12000,16000,20000,24000,28000,32000,36000,40000], "format": "d",
"labelFont": "DejaVu Sans", "labelFontSize": 33, "labelFontWeight": "bold", "labelColor": "#1a1a1a",
"labelPadding": 17, "labelOverlap": false, "labelFlush": false, "labelBound": false,
"tickSize": 20, "tickWidth": 3, "tickColor": "#000000", "domainColor": "#000000", "domainWidth": 3.5,
"title": "Intensity", "titleFont": "Liberation Sans", "titleFontSize": 61, "titleFontWeight": "bold", "titleColor": "#111111",
"titleX": -229, "titleY": 355, "titleAngle": 270, "titleAlign": "center", "titleBaseline": "alphabetic"}},
"color": {"field": "s", "type": "nominal",
"scale": {"domain": ["BB","PETN","PETN-BB-L1","PETN-BB-L2","PETN-BB-L3","PETN-BB-L4","PETN-BB-L6"],
"range": ["#000000","#ff0000","#8e1f9e","#ff8c1a","#178282","#1fd6d6","#8b1a1a"]},
"legend": {"orient": "none", "legendX": 1190, "legendY": 546, "title": null, "padding": 0,
"symbolType": "M-4,0H4", "symbolSize": 169, "symbolStrokeWidth": 4, "symbolOffset": 17,
"labelOffset": 22, "labelFont": "DejaVu Sans", "labelFontSize": 18, "labelFontWeight": "bold", "rowPadding": 3,
"labelColor": {"expr": "datum.value === 'PETN' ? '#ff0000' : datum.value === 'PETN-BB-L1' ? '#8e1f9e' : datum.value === 'PETN-BB-L2' ? '#ff8c1a' : datum.value === 'PETN-BB-L3' ? '#178282' : datum.value === 'PETN-BB-L4' ? '#1fd6d6' : datum.value === 'PETN-BB-L6' ? '#8b1a1a' : '#000000'"}}}
}
},
{
"data": {"values": [{}]},
"mark": {"type": "rect", "fill": "#9fc3c3", "fillOpacity": 0.45, "stroke": "#8db1b1", "strokeWidth": 3, "strokeOpacity": 0.8},
"encoding": {"x": {"datum": 1222, "type": "quantitative", "scale": {"domain": [150, 2448], "nice": false, "zero": false}, "axis": null}, "x2": {"datum": 1350}, "y": {"datum": 0, "type": "quantitative", "scale": {"domain": [0, 40000], "nice": false}, "axis": null}, "y2": {"datum": 40000}}
},
{
"data": {"values": [{}]},
"mark": {"type": "rule", "color": "#000000", "strokeWidth": 3},
"encoding": {"y": {"datum": 40000, "type": "quantitative", "scale": {"domain": [0, 40000], "nice": false}, "axis": null}}
},
{
"data": {"values": [{}]},
"mark": {"type": "rect", "fill": "#4f81bd", "stroke": "#385d8a", "strokeWidth": 2, "clip": false},
"encoding": {"x": {"datum": -406, "type": "quantitative", "scale": {"domain": [150, 2448], "nice": false, "zero": false}, "axis": null}, "x2": {"datum": 2448}, "y": {"datum": 41745, "type": "quantitative", "scale": {"domain": [0, 40000], "nice": false}, "axis": null}, "y2": {"datum": 42600}}
},
{
"data": {"values": [{}]},
"mark": {"type": "point", "opacity": 0},
"encoding": {
"x": {"datum": 150, "type": "quantitative", "scale": {"domain": [150, 2448], "nice": false, "zero": false},
"axis": {"orient": "bottom", "values": [150,450,750,1050,1350,1650,1950,2250], "labels": false, "domain": false, "tickSize": 8, "tickWidth": 3, "tickColor": "#000000",
"title": "-1", "titleFont": "Liberation Sans", "titleFontSize": 54, "titleFontWeight": "bold", "titleColor": "#111111",
"titleX": 976, "titleY": 128, "titleAlign": "center", "titleBaseline": "alphabetic"}},
"y": {"datum": 0, "type": "quantitative", "scale": {"domain": [0, 40000], "nice": false},
"axis": {"orient": "left", "values": [2000,6000,10000,14000,18000,22000,26000,30000,34000,38000], "labels": false, "domain": false, "title": null, "tickSize": 9, "tickWidth": 3, "tickColor": "#000000"}}
}
},
{
"data": {"values": [{}]},
"mark": {"type": "rect", "filled": false, "stroke": "#000000", "strokeWidth": 2.5},
"encoding": {"x": {"datum": 1200, "type": "quantitative", "scale": {"domain": [1200, 1400], "range": [989.3, 1406], "nice": false, "zero": false}, "axis": null}, "x2": {"datum": 1400}, "y": {"datum": 0, "type": "quantitative", "scale": {"domain": [0, 13450], "range": [417.3, 34.7], "nice": false}, "axis": null}, "y2": {"datum": 13450}}
},
{
"data": {"name": "inset"},
"mark": {"type": "line", "strokeWidth": 2.6},
"encoding": {
"x": {"field": "x", "type": "quantitative",
"scale": {"domain": [1200, 1400], "range": [989.3, 1406], "nice": false, "zero": false},
"axis": {"orient": "bottom", "offset": -353.4, "values": [1200,1240,1280,1320,1360,1400], "format": "d",
"labelFont": "DejaVu Sans", "labelFontSize": 14, "labelColor": "#444444", "labelPadding": 2,
"labelFlush": false, "labelOverlap": false, "labelBound": false,
"tickSize": 6, "tickWidth": 2, "tickColor": "#000000", "domainColor": "#000000", "domainWidth": 2.5,
"title": "Raman Shift cm⁻¹", "titleFont": "DejaVu Sans", "titleFontSize": 19, "titleFontWeight": "normal", "titleColor": "#444444",
"titleX": 1193, "titleY": 44, "titleAlign": "center", "titleBaseline": "middle"}},
"y": {"field": "y", "type": "quantitative",
"scale": {"domain": [0, 13450], "range": [417.3, 34.7], "nice": false, "zero": true},
"axis": {"orient": "left", "offset": -989.3, "values": [0,2000,4000,6000,8000,10000,12000], "format": "d",
"labelFont": "DejaVu Sans", "labelFontSize": 14, "labelColor": "#444444", "labelPadding": 8,
"labelOverlap": false, "labelFlush": false, "labelBound": false,
"tickSize": 6, "tickWidth": 2, "tickColor": "#000000", "domainColor": "#000000", "domainWidth": 2.5,
"title": "Intensity", "titleFont": "DejaVu Sans", "titleFontSize": 19, "titleFontWeight": "normal", "titleColor": "#333333",
"titleX": -113, "titleY": 203, "titleAngle": 270, "titleAlign": "center", "titleBaseline": "middle"}},
"color": {"field": "s", "type": "nominal", "legend": null}
}
},
{
"data": {"values": [{}]},
"mark": {"type": "point", "opacity": 0},
"encoding": {
"x": {"datum": 1200, "type": "quantitative", "scale": {"domain": [1200, 1400], "range": [989.3, 1406], "nice": false, "zero": false},
"axis": {"orient": "bottom", "offset": -353.4, "values": [1220,1260,1300,1340,1380], "labels": false, "domain": false, "title": null, "tickSize": 4, "tickWidth": 2, "tickColor": "#000000"}},
"y": {"datum": 0, "type": "quantitative", "scale": {"domain": [0, 13450], "range": [417.3, 34.7], "nice": false},
"axis": {"orient": "left", "offset": -989.3, "values": [1000,3000,5000,7000,9000,11000,13000], "labels": false, "domain": false, "title": null, "tickSize": 4, "tickWidth": 2, "tickColor": "#000000"}}
}
}
],
"resolve": {"scale": {"x": "independent", "y": "independent"}, "axis": {"x": "independent", "y": "independent"}}
}
